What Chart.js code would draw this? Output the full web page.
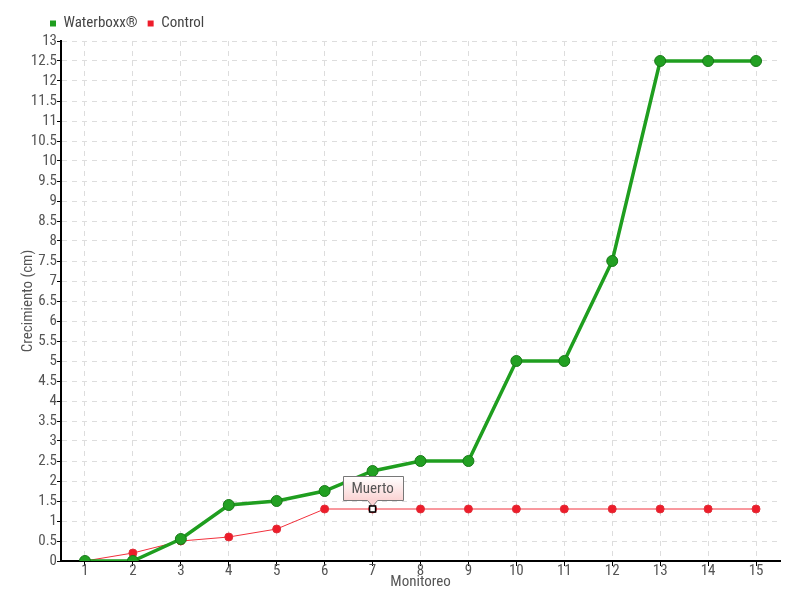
<!DOCTYPE html>
<html><head><meta charset="utf-8">
<script src="https://cdn.jsdelivr.net/npm/chart.js@4.4.0/dist/chart.umd.min.js"></script>
<style>html,body{margin:0;padding:0;background:#fff}#wrap{width:800px;height:600px}</style>
</head><body><div id="wrap"><canvas id="c" width="800" height="600"></canvas></div>
<script>
const categories = ['1','2','3','4','5','6','7','8','9','10','11','12','13','14','15'];
const waterboxx = [0, 0, 0.55, 1.4, 1.5, 1.75, 2.25, 2.5, 2.5, 5, 5, 7.5, 12.5, 12.5, 12.5];
const control = [0, 0.2, 0.5, 0.6, 0.8, 1.3, 1.3, 1.3, 1.3, 1.3, 1.3, 1.3, 1.3, 1.3, 1.3];
const seriesNames = ['Waterboxx®', 'Control'];
const annotationIndex = 6;
const annotationText = 'Muerto';
const xTitle = 'Monitoreo';
const yTitle = 'Crecimiento (cm)';

const FAMILY = 'Roboto, sans-serif';
const F = (size) => ({ family: FAMILY, size: size, weight: 'condensed' });

const calloutPlugin = {
  id: 'callout',
  afterLayout(chart) {
    if (chart.legend) { chart.legend.left = 40; }
  },
  afterDatasetsDraw(chart) {
    const ctx = chart.ctx;
    const meta = chart.getDatasetMeta(1);
    const pt = meta.data[annotationIndex];
    const px = pt.x, py = pt.y;
    ctx.save();
    ctx.font = 'condensed 15px ' + FAMILY;
    const tw = ctx.measureText(annotationText).width;
    const w = Math.round(tw + 18), h = 24;
    const x0 = Math.round(px - w / 2) + 0.5, y0 = Math.round(py - 9 - h) + 0.5;
    const g = ctx.createLinearGradient(0, y0, 0, y0 + h);
    g.addColorStop(0, '#ffffff');
    g.addColorStop(1, '#fbd3d3');
    ctx.beginPath();
    ctx.moveTo(x0, y0);
    ctx.lineTo(x0 + w, y0);
    ctx.lineTo(x0 + w, y0 + h);
    ctx.lineTo(px + 5, y0 + h);
    ctx.lineTo(px, y0 + h + 6);
    ctx.lineTo(px - 5, y0 + h);
    ctx.lineTo(x0, y0 + h);
    ctx.closePath();
    ctx.fillStyle = g;
    ctx.fill();
    ctx.strokeStyle = '#777';
    ctx.lineWidth = 1;
    ctx.stroke();
    ctx.fillStyle = '#555';
    ctx.textAlign = 'center';
    ctx.textBaseline = 'middle';
    ctx.fillText(annotationText, px, y0 + h / 2 + 1);
    ctx.fillStyle = '#fff';
    ctx.strokeStyle = '#000';
    ctx.lineWidth = 1.5;
    ctx.fillRect(px - 3, py - 3, 6, 6);
    ctx.strokeRect(px - 3, py - 3, 6, 6);
    ctx.restore();
  }
};

const tickFmt = v => String(Math.round(v * 10) / 10);

new Chart(document.getElementById('c'), {
  type: 'line',
  data: {
    labels: categories,
    datasets: [
      {
        label: seriesNames[0],
        data: waterboxx,
        borderColor: '#1f9e1f',
        backgroundColor: '#1f9e1f',
        borderWidth: 3.5,
        pointRadius: 5.5,
        pointBackgroundColor: '#22a022',
        pointBorderColor: '#187a18',
        pointBorderWidth: 1,
        tension: 0,
        order: 1
      },
      {
        label: seriesNames[1],
        data: control,
        borderColor: '#f2303c',
        backgroundColor: '#ee1c2a',
        borderWidth: 1,
        pointRadius: 4,
        pointBackgroundColor: '#ee1c2a',
        pointBorderColor: '#e0303a',
        pointBorderWidth: 1,
        tension: 0,
        order: 2
      }
    ]
  },
  options: {
    responsive: false,
    animation: false,
    layout: { padding: { left: 19, right: 20, top: 6, bottom: 9 } },
    plugins: {
      tooltip: { enabled: false },
      legend: {
        display: true,
        align: 'start',
        labels: {
          boxWidth: 6, boxHeight: 6, padding: 10,
          font: F(15), color: '#444',
          generateLabels(chart) {
            return chart.data.datasets.map((d, i) => ({
              text: d.label, fillStyle: d.backgroundColor, strokeStyle: d.backgroundColor,
              lineWidth: 0, datasetIndex: i, fontColor: '#444'
            }));
          }
        }
      }
    },
    scales: {
      x: {
        offset: true,
        grid: { color: '#dddddd', tickColor: '#000', tickLength: 5, offset: false },
        border: { color: '#000', width: 2, dash: [5, 5] },
        ticks: { font: F(15), color: '#555', padding: -4, maxRotation: 0, autoSkip: false },
        title: { display: true, text: xTitle, font: F(15), color: '#555', padding: { top: -3, bottom: 0 } }
      },
      y: {
        min: 0, max: 13,
        afterFit(scale) { scale.width = 42; },
        ticks: { stepSize: 0.5, autoSkip: false, font: F(15), color: '#555', padding: 0, callback: tickFmt },
        grid: { color: '#dddddd', tickColor: '#000', tickLength: 4 },
        border: { color: '#000', width: 2, dash: [5, 5] },
        title: { display: true, text: yTitle, font: F(15), color: '#555', padding: { top: 0, bottom: 4 } }
      }
    }
  },
  plugins: [calloutPlugin]
});
</script></body></html>
